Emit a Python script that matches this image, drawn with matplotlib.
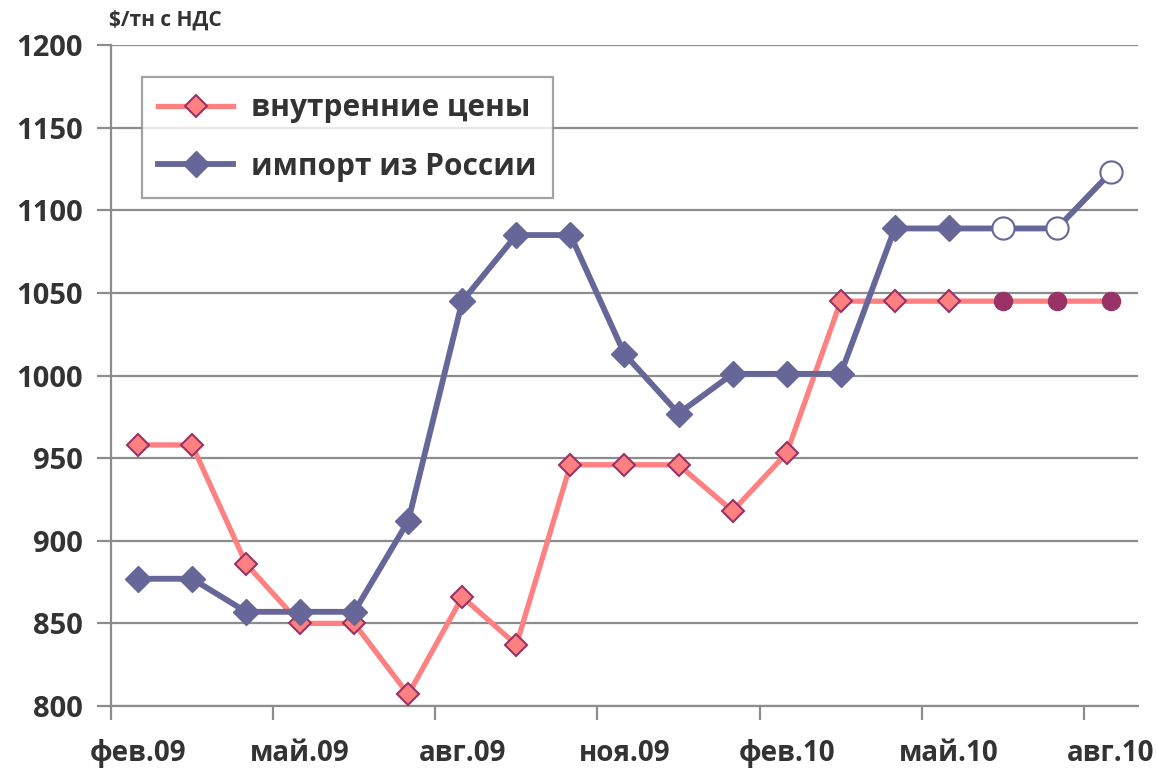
import matplotlib
matplotlib.use("Agg")
import matplotlib.pyplot as plt
from matplotlib.ticker import FixedLocator, NullFormatter, FixedFormatter

plt.rcParams['font.family'] = ['Open Sans', 'DejaVu Sans']

months = ["фев.09", "мар.09", "апр.09", "май.09", "июн.09", "июл.09", "авг.09",
          "сен.09", "окт.09", "ноя.09", "дек.09", "янв.10", "фев.10", "мар.10",
          "апр.10", "май.10", "июн.10", "июл.10", "авг.10"]
domestic = [958, 958, 886, 850, 850, 807, 866, 837, 946, 946, 946, 918, 953,
            1045, 1045, 1045, 1045, 1045, 1045]
russia = [877, 877, 857, 857, 857, 912, 1045, 1085, 1085, 1013, 977, 1001, 1001,
          1001, 1089, 1089, 1089, 1089, 1123]
n_fact = 16  # last 3 points are forecast (circles)

pink = '#FF8080'
pink_edge = '#993366'
blue = '#666699'
grid_c = '#8C8C8C'
txt = '#333333'

fig = plt.figure(figsize=(11.57, 7.71), dpi=100)
ax = fig.add_axes([0.0959, 0.0843, 0.8877, 0.8573])

x = list(range(len(months)))

ax.plot(x, domestic, color=pink, lw=3.8, marker='D', ms=11, mfc=pink, mec=pink_edge,
        mew=1.5, markevery=list(range(n_fact)), label='внутренние цены', zorder=3)
ax.plot(x[n_fact:], domestic[n_fact:], ls='none', marker='o', ms=13, mfc=pink_edge,
        mec=pink_edge, zorder=4)
ax.plot(x, russia, color=blue, lw=4.2, marker='D', ms=13, mfc=blue, mec=blue,
        markevery=list(range(n_fact)), label='импорт из России', zorder=5)
ax.plot(x[n_fact:], russia[n_fact:], ls='none', marker='o', ms=16, mfc='white',
        mec=blue, mew=1.5, zorder=6)

ax.set_xlim(-0.5, len(months) - 0.5)
ax.set_ylim(800, 1200)
ax.set_yticks(range(800, 1201, 50))
ax.yaxis.grid(True, color=grid_c, lw=1.6)
ax.set_axisbelow(True)

ax.xaxis.set_major_locator(FixedLocator([i - 0.5 for i in range(0, len(months), 3)]))
ax.xaxis.set_major_formatter(NullFormatter())
ax.xaxis.set_minor_locator(FixedLocator(list(range(0, len(months), 3))))
ax.xaxis.set_minor_formatter(FixedFormatter([months[i] for i in range(0, len(months), 3)]))
ax.tick_params(axis='x', which='major', length=10, width=1.6, color=grid_c)
ax.tick_params(axis='x', which='minor', length=0, pad=24, labelsize=20, labelcolor=txt)
ax.tick_params(axis='y', length=10, width=1.6, color=grid_c, labelsize=21,
               labelcolor=txt, pad=10)
for lab in ax.get_yticklabels() + ax.xaxis.get_minorticklabels():
    lab.set_fontweight('bold')

for s in ['top', 'right']:
    ax.spines[s].set_visible(False)
for s in ['left', 'bottom']:
    ax.spines[s].set_color(grid_c)
    ax.spines[s].set_linewidth(1.6)

ax.text(-0.002, 1.022, '$/тн с НДС', transform=ax.transAxes, fontsize=15,
        fontweight='bold', color=txt, ha='left', va='bottom')

leg = ax.legend(loc='upper left', bbox_to_anchor=(0.030, 0.952), borderaxespad=0,
                frameon=True, fancybox=False, edgecolor='#8C8C8C', handlelength=2.5,
                borderpad=0.55, labelspacing=0.95, handletextpad=0.6,
                prop={'weight': 'bold', 'size': 21.5})
leg.get_frame().set_linewidth(1.6)
for t in leg.get_texts():
    t.set_color(txt)

fig.savefig('out.png', dpi=100)
